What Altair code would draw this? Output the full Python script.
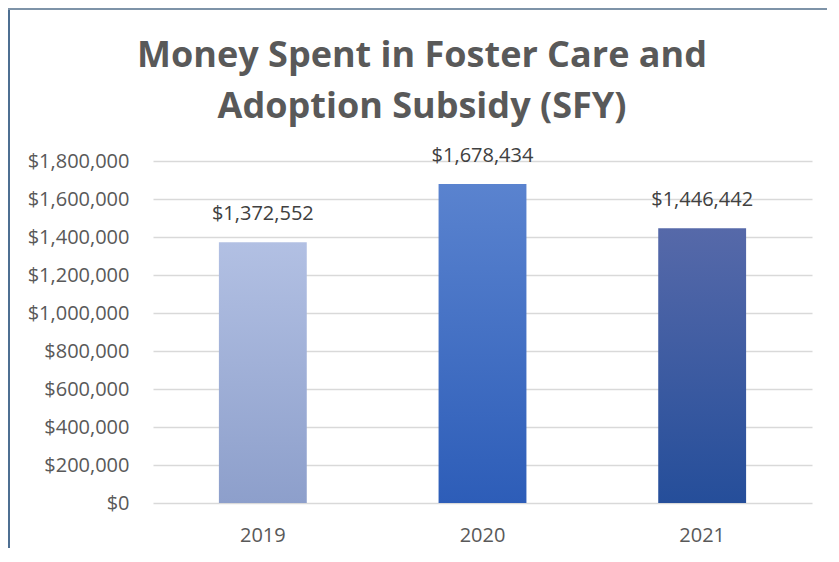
import altair as alt
import pandas as pd

years = ["2019", "2020", "2021"]
amounts = [1372552, 1678434, 1446442]
top_colors = ["#B2C0E3", "#5A83CF", "#5669A9"]
bottom_colors = ["#8D9FCB", "#2D5DB8", "#254E9A"]
tick_values = [0, 200000, 400000, 600000, 800000, 1000000, 1200000, 1400000, 1600000, 1800000]
title_lines = ["Money Spent in Foster Care and", "Adoption Subsidy (SFY)"]

FONT = "Open Sans"
df = pd.DataFrame({"year": years, "amount": amounts})

x_enc = alt.X(
    "year:N",
    sort=years,
    scale=alt.Scale(paddingInner=0.6, paddingOuter=0.3),
    axis=alt.Axis(title=None, labelAngle=0, labelFont=FONT, labelFontSize=20,
                  labelColor="#595959", labelPadding=22, ticks=False, domain=False),
)
y_enc = alt.Y(
    "amount:Q",
    scale=alt.Scale(domain=[0, 1800000], nice=False),
    axis=alt.Axis(title=None, values=tick_values, format="$,.0f", labelFont=FONT,
                  labelFontSize=20, labelColor="#595959", labelPadding=24,
                  ticks=False, domain=False, gridColor="#D9D9D9", gridWidth=1.5),
)

layers = []
for yr, tc, bc in zip(years, top_colors, bottom_colors):
    layers.append(
        alt.Chart(df)
        .transform_filter(alt.datum.year == yr)
        .mark_bar(
            color=alt.Gradient(
                gradient="linear",
                stops=[alt.GradientStop(color=tc, offset=0), alt.GradientStop(color=bc, offset=1)],
                x1=0, x2=0, y1=0, y2=1,
            )
        )
        .encode(x=x_enc, y=y_enc)
    )

text = (
    alt.Chart(df)
    .mark_text(baseline="bottom", dy=-18, font=FONT, fontSize=20, color="#404040")
    .encode(x=x_enc, y=y_enc, text=alt.Text("amount:Q", format="$,.0f"))
)

border_df = pd.DataFrame({"k": [0]})
left_border = alt.Chart(border_df).mark_rule(color="#4E6F92", strokeWidth=2).encode(
    x=alt.value(-144), y=alt.value(-152), y2=alt.value(400)
)
top_border = alt.Chart(border_df).mark_rule(color="#7E93A8", strokeWidth=2).encode(
    x=alt.value(-145), x2=alt.value(680), y=alt.value(-152)
)

title_marks = []
for line, ypos in zip(title_lines, [-94, -43]):
    title_marks.append(
        alt.Chart(border_df)
        .mark_text(text=line, font=FONT, fontSize=36, fontWeight="bold", color="#595959",
                   align="center", baseline="alphabetic")
        .encode(x=alt.value(269), y=alt.value(ypos))
    )

chart = (
    alt.layer(*layers, text, left_border, top_border, *title_marks)
    .properties(
        width=659,
        height=342,
        background="white",
        autosize=alt.AutoSizeParams(type="none"),
        padding={"left": 145, "top": 153, "right": 15, "bottom": 45},
    )
    .configure_view(stroke=None)
)

chart.save("out.html", embed_options={"renderer": "svg", "actions": False})
